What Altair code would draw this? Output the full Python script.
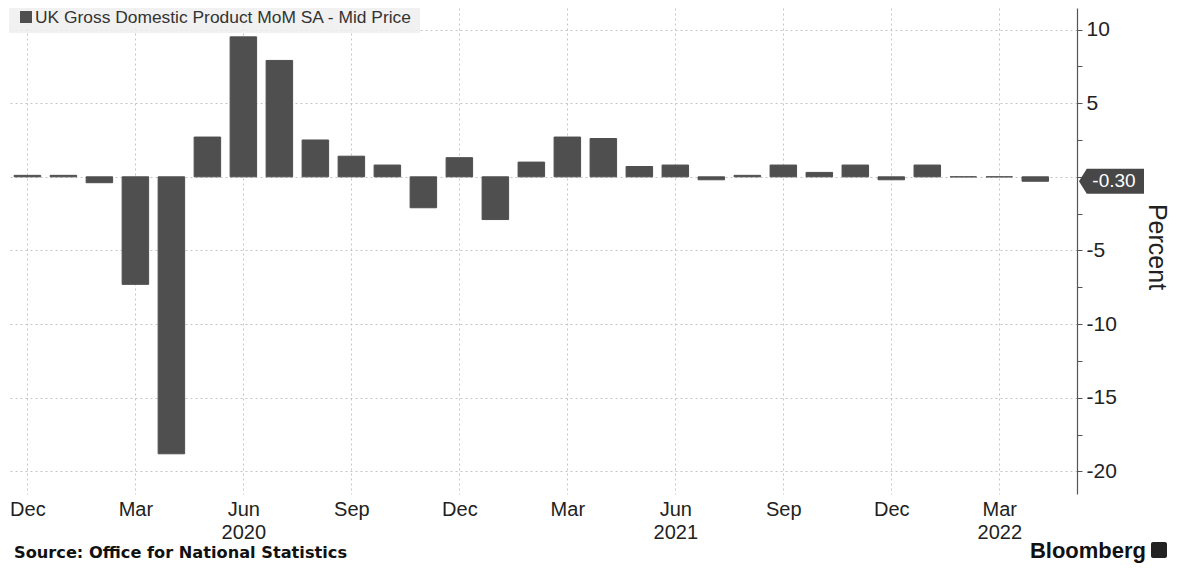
import altair as alt
import pandas as pd

# ---- data ----
months = ["Dec 2019", "Jan 2020", "Feb 2020", "Mar 2020", "Apr 2020", "May 2020",
          "Jun 2020", "Jul 2020", "Aug 2020", "Sep 2020", "Oct 2020", "Nov 2020",
          "Dec 2020", "Jan 2021", "Feb 2021", "Mar 2021", "Apr 2021", "May 2021",
          "Jun 2021", "Jul 2021", "Aug 2021", "Sep 2021", "Oct 2021", "Nov 2021",
          "Dec 2021", "Jan 2022", "Feb 2022", "Mar 2022", "Apr 2022"]
gdp_mom = [0.1, 0.1, -0.4, -7.3, -18.8, 2.7,
           9.5, 7.9, 2.5, 1.4, 0.8, -2.1,
           1.3, -2.9, 1.0, 2.7, 2.6, 0.7,
           0.8, -0.2, 0.1, 0.8, 0.3, 0.8,
           -0.2, 0.8, 0.0, 0.0, -0.3]
tick_months = ["Dec", "Mar", "Jun", "Sep", "Dec", "Mar", "Jun", "Sep", "Dec", "Mar"]
tick_years = ["", "", "2020", "", "", "", "2021", "", "", "2022"]
y_ticks = [-20, -17.5, -15, -12.5, -10, -7.5, -5, -2.5, 0, 2.5, 5, 7.5, 10]
last_value = -0.30
last_label = "-0.30"
series_name = "UK Gross Domestic Product MoM SA - Mid Price"
source_text = "Source: Office for National Statistics"
brand_text = "Bloomberg"

df = pd.DataFrame({"month": months, "idx": list(range(len(months))), "value": gdp_mom})
df["zero"] = 0.0

tick_idx = [3 * k for k in range(len(tick_months))]
lab_arr = "[" + ",".join(
    ("['%s','%s']" % (m, y)) if y else ("['%s']" % m)
    for m, y in zip(tick_months, tick_years)) + "]"
x_label_expr = lab_arr + "[round(datum.value/3)]"

FONT = "Liberation Sans"
BAR = "#4f4f4f"
GRID = "#c4c4c4"

x_enc = alt.X("idx:Q",
              scale=alt.Scale(domain=[-0.4, 29.02], nice=False, zero=False),
              axis=alt.Axis(values=tick_idx, labelExpr=x_label_expr, title=None,
                            domain=False, ticks=False, grid=True,
                            gridColor=GRID, gridDash=[2, 3], gridWidth=1,
                            labelFont=FONT, labelFontSize=20, labelColor="#222222",
                            labelLineHeight=23, labelPadding=5, labelFlush=False,
                            labelBaseline="top"))

y_scale = alt.Scale(domain=[-21.53, 11.46], nice=False, zero=False)
y_axis = alt.Axis(orient="right", values=y_ticks, title=None,
                  labelExpr="datum.value % 5 == 0 && datum.value != 0 ? '' + datum.value : ''",
                  domain=True, domainColor="#555555", domainWidth=1.2,
                  ticks=True, tickColor="#555555", tickSize=5, tickWidth=1,
                  grid=True, gridDash=[2, 3], gridWidth=1,
                  gridColor={"condition": {"test": "datum.value % 5 != 0", "value": "transparent"},
                             "value": GRID},
                  labelFont=FONT, labelFontSize=21, labelColor="#222222",
                  labelPadding=4, labelFlush=False)

bars = alt.Chart(df).mark_bar(width=26.5, color=BAR, stroke=BAR, strokeWidth=1).encode(
    x=x_enc,
    y=alt.Y("value:Q", scale=y_scale, axis=y_axis),
    y2=alt.Y2("zero:Q"),
)

tag_df = pd.DataFrame({"value": [last_value], "label": [last_label]})
tag_path = "M -1 0 L -0.76 -0.385 L 1 -0.385 L 1 0.385 L -0.76 0.385 Z"
tag = alt.Chart(tag_df).mark_point(shape=tag_path, filled=True, size=4225,
                                   color="#474747", opacity=1, strokeWidth=0).encode(
    x=alt.value(1103.5),
    y=alt.Y("value:Q", scale=y_scale, axis=y_axis),
)
tag_text = alt.Chart(tag_df).mark_text(font=FONT, fontSize=19, color="white",
                                       align="center", baseline="middle").encode(
    x=alt.value(1106),
    y=alt.Y("value:Q", scale=y_scale, axis=y_axis),
    text="label:N",
)

one = pd.DataFrame({"t": [series_name]})
legend_box = alt.Chart(one).mark_rect(color="#eeeeee", opacity=0.85).encode(
    x=alt.value(1), x2=alt.value(412), y=alt.value(0), y2=alt.value(25))
legend_sq = alt.Chart(one).mark_rect(color=BAR).encode(
    x=alt.value(12), x2=alt.value(24), y=alt.value(3), y2=alt.value(15))
legend_txt = alt.Chart(one).mark_text(font=FONT, fontSize=17.4, color="#333333",
                                      align="left", baseline="alphabetic").encode(
    x=alt.value(27), y=alt.value(15), text="t:N")

title_df = pd.DataFrame({"t": ["Percent"]})
y_title = alt.Chart(title_df).mark_text(font=FONT, fontSize=25, color="#222222", angle=90,
                                        align="center", baseline="middle").encode(
    x=alt.value(1149), y=alt.value(239), text="t:N")

src_df = pd.DataFrame({"t": [source_text]})
src = alt.Chart(src_df).mark_text(font="DejaVu Sans", fontSize=16.2, fontWeight="bold",
                                  color="#111111", align="left", baseline="alphabetic").encode(
    x=alt.value(6), y=alt.value(550), text="t:N")

brand_df = pd.DataFrame({"t": [brand_text]})
brand = alt.Chart(brand_df).mark_text(font=FONT, fontSize=22, fontWeight="bold", color="#111111",
                                      align="right", baseline="alphabetic").encode(
    x=alt.value(1138), y=alt.value(550), text="t:N")
brand_icon = alt.Chart(brand_df).mark_rect(color="#222222", cornerRadius=2).encode(
    x=alt.value(1143), x2=alt.value(1159), y=alt.value(534), y2=alt.value(550))

chart = alt.layer(
    legend_box, bars, legend_sq, legend_txt, tag, tag_text, y_title, src, brand, brand_icon
).properties(
    width=1069, height=486,
    padding={"left": 0, "top": 0, "right": 101, "bottom": 69},
    autosize=alt.AutoSizeParams(type="none"),
    background="white",
).configure_view(stroke=None)

chart.save("out.html", embed_options={"renderer": "svg", "actions": False})
